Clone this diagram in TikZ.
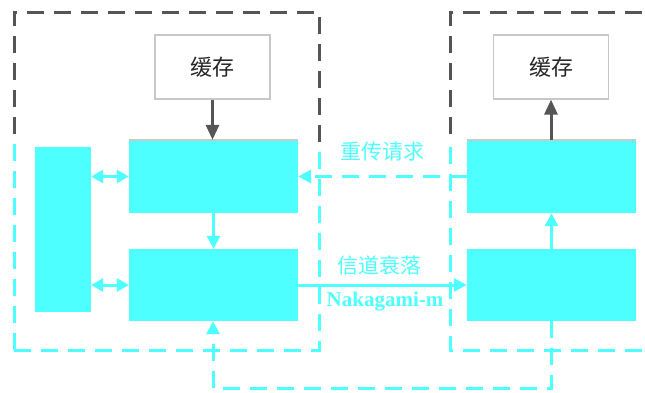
\documentclass[tikz,border=0pt]{standalone}
\usepackage{fontspec}
\setmainfont{Liberation Serif}
\newfontfamily\cjk{Noto Sans CJK SC}
\usetikzlibrary{arrows.meta}
\definecolor{cy}{HTML}{4DFFFF}
\definecolor{dk}{HTML}{555555}
\definecolor{lg}{HTML}{C8C8C8}
\tikzset{
  blk/.style={draw=none,fill=cy,minimum width=169pt,minimum height=73pt,inner sep=0pt},
  cachebox/.style={draw=lg,line width=1.2pt,fill=white,minimum width=115pt,minimum height=64pt,inner sep=0pt,font=\cjk\fontsize{22}{24}\selectfont,text=black!85},
  grayframe/.style={draw=dk,line width=3pt,dash pattern=on 17pt off 10pt},
  cyframe/.style={draw=cy,line width=3pt,dash pattern=on 17pt off 10pt},
  darrow/.style={draw=dk,line width=3pt,-{Triangle[width=13pt,length=15pt]}},
  carrow/.style={draw=cy,line width=3pt,-{Triangle[width=13pt,length=13pt]}},
  cdouble/.style={draw=cy,line width=3pt,{Triangle[width=13pt,length=12pt]}-{Triangle[width=13pt,length=12pt]}},
  lbl/.style={text=cy,font=\cjk\fontsize{21}{23}\selectfont,inner sep=0pt},
}
\begin{document}
\begin{tikzpicture}[x=1pt,y=-1pt]
\useasboundingbox (0,0) rectangle (645,392);
% dashed frames
\begin{scope}
\clip (0,0) rectangle (645,143);
\draw[grayframe] (14,350) -- (14,12) -- (319,12) -- (319,350);
\draw[grayframe] (450,350) -- (450,12) -- (660,12);
\end{scope}
\begin{scope}
\clip (0,143) rectangle (645,392);
\draw[cyframe] (14,350) -- (14,12) -- (319,12) -- (319,350) -- cycle;
\draw[cyframe] (450,12) -- (450,350) -- (660,350);
\end{scope}
% blocks
\node[blk,minimum width=56pt,minimum height=165pt] (tall) at (63,229.5) {};
\node[blk] (LU) at (213.5,176.5) {};
\node[blk,minimum height=72pt] (LL) at (213.5,285) {};
\node[blk] (RU) at (551.5,176.5) {};
\node[blk,minimum height=72pt] (RL) at (551.5,285) {};
\draw[lg,line width=2.5pt] (LU.north west) -- (LU.north east);
\draw[lg,line width=2.5pt] (RU.north west) -- (RU.north east);
% caches
\node[cachebox] (cL) at (212.5,67) {缓存};
\node[cachebox] (cR) at (551,67) {缓存};
% arrows
\draw[darrow] (cL.south) -- (cL.south |- LU.north);
\draw[darrow] (RU.north -| cR.south) -- (cR.south);
\draw[carrow] (LU.south) -- (LL.north);
\draw[carrow] (RL.north) -- (RU.south);
\draw[cdouble] (tall.east |- LU.west) -- (LU.west);
\draw[cdouble] (tall.east |- LL.west) -- (LL.west);
\draw[carrow,dash pattern=on 17pt off 10pt] (RU.west) -- (LU.east);
\draw[carrow] (LL.east) -- (RL.west);
\coordinate (fb1) at (551,388);
\coordinate (fb2) at (213,388);
\draw[carrow,dash pattern=on 17pt off 10pt] (RL.south -| fb1) -- (fb1) -- (fb2) -- (LL.south -| fb2);
% labels
\node[lbl] (l1) at (382,152) {重传请求};
\node[lbl] (l2) at (379,265) {信道衰落};
\node[text=cy,font=\fontsize{21}{23}\selectfont\bfseries,inner sep=0pt] (l3) at (385,302) {Nakagami-m};
\end{tikzpicture}
\end{document}
